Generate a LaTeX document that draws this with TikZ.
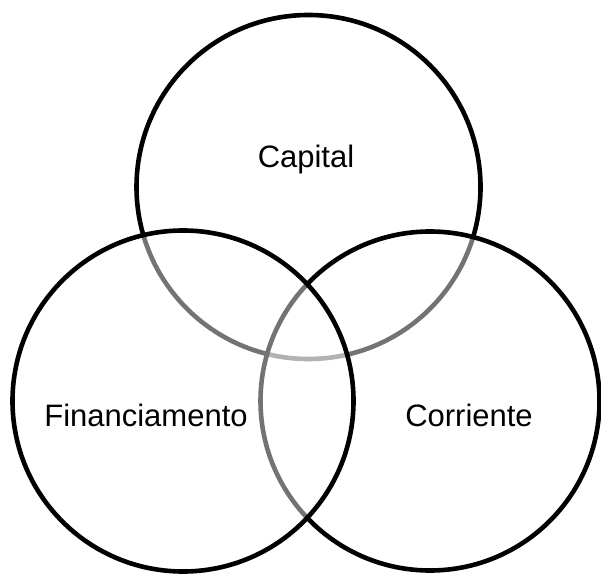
\documentclass[tikz,border=0pt]{standalone}
\usepackage{fontspec}
\setmainfont{Liberation Sans}
\begin{document}
\begin{tikzpicture}[x=1pt,y=1pt,
  venn/.style={draw=black,line width=4.6pt,fill=white,fill opacity=0.45},
  lbl/.style={anchor=base,font=\fontsize{31}{37}\selectfont,text=black,inner sep=0pt}]
\useasboundingbox (0,0) rectangle (601,576);
\draw[venn] (308.5,389) circle (172);
\draw[venn] (430,175) circle (169.5);
\draw[venn] (183,175) circle (170.5);
\node[lbl] (cap) at (306,408) {Capital};
\node[lbl] (fin) at (146,150) {Financiamento};
\node[lbl] (cor) at (469,150) {Corriente};
\end{tikzpicture}
\end{document}
